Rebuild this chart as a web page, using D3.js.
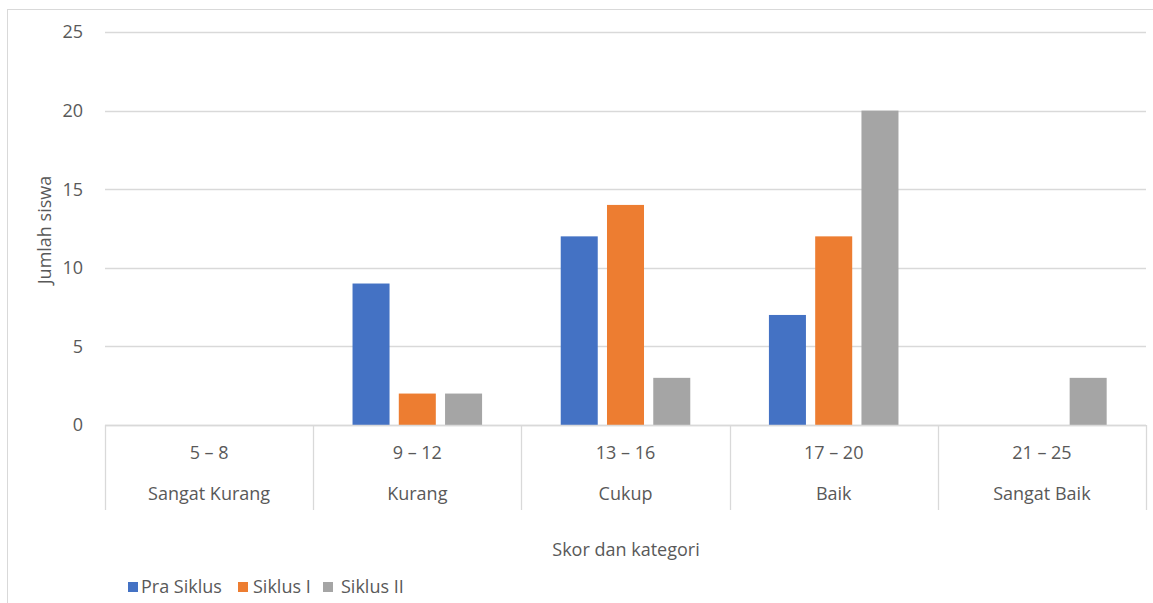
<!DOCTYPE html>
<html>
<head>
<meta charset="utf-8">
<script src="https://cdn.jsdelivr.net/npm/d3@7"></script>
<style>
  body { margin: 0; background: #fff; }
  svg { display: block; font-family: "Open Sans", Lato, sans-serif; }
</style>
</head>
<body>
<div class="container"></div>
<script>
// values
const ranges = ["5 – 8", "9 – 12", "13 – 16", "17 – 20", "21 – 25"];
const categories = ["Sangat Kurang", "Kurang", "Cukup", "Baik", "Sangat Baik"];
const seriesNames = ["Pra Siklus", "Siklus I", "Siklus II"];
const praSiklus = [0, 9, 12, 7, 0];
const siklusI = [0, 2, 14, 12, 0];
const siklusII = [0, 2, 3, 20, 3];
const yTicks = [0, 5, 10, 15, 20, 25];
const colors = ["#4472C4", "#ED7D31", "#A5A5A5"];

const series = [praSiklus, siklusI, siklusII];

const W = 1153, H = 603;
const margin = { top: 32, right: 7, bottom: 178, left: 105 };
const width = W - margin.left - margin.right;
const height = H - margin.top - margin.bottom;
const fs = 18;

const svg = d3.select(".container")
  .append("svg")
  .attr("width", W)
  .attr("height", H);

// chart border
svg.append("rect")
  .attr("x", 7.5).attr("y", 9.5)
  .attr("width", 1160).attr("height", 620)
  .attr("fill", "none")
  .attr("stroke", "#D9D9D9");

const g = svg.append("g")
  .attr("transform", `translate(${margin.left}, ${margin.top})`);

const x0 = d3.scaleBand()
  .domain(d3.range(categories.length))
  .range([0, width])
  .padding(0);

const x1 = d3.scaleBand()
  .domain(d3.range(series.length))
  .range([0, x0.bandwidth()])
  .paddingInner(0.2)
  .paddingOuter(0.85);

const y = d3.scaleLinear()
  .domain([0, 25])
  .range([height, 0]);

// gridlines
g.append("g")
  .selectAll("line")
  .data(yTicks)
  .join("line")
  .attr("x1", 0).attr("x2", width)
  .attr("y1", d => Math.round(y(d)) + 0.5)
  .attr("y2", d => Math.round(y(d)) + 0.5)
  .attr("stroke", "#D9D9D9")
  .attr("stroke-width", 1.3);

// y tick labels
g.append("g")
  .selectAll("text")
  .data(yTicks)
  .join("text")
  .attr("x", -22)
  .attr("y", d => y(d))
  .attr("dy", "0.35em")
  .attr("text-anchor", "end")
  .attr("fill", "#595959")
  .attr("font-size", fs)
  .text(d => d);

// bars
const groups = g.append("g")
  .selectAll("g")
  .data(categories.map((c, i) => i))
  .join("g")
  .attr("transform", i => `translate(${x0(i)}, 0)`);

groups.selectAll("rect")
  .data(i => series.map((s, k) => ({ k, v: s[i] })))
  .join("rect")
  .attr("x", d => x1(d.k))
  .attr("width", x1.bandwidth())
  .attr("y", d => y(d.v))
  .attr("height", d => height - y(d.v))
  .attr("fill", d => colors[d.k]);

// two-level category axis
const axis = g.append("g").attr("transform", `translate(0, ${height})`);
axis.append("line")
  .attr("x1", 0).attr("x2", width)
  .attr("y1", 0.5).attr("y2", 0.5)
  .attr("stroke", "#D9D9D9")
  .attr("stroke-width", 1.3);

axis.selectAll("line.sep")
  .data(d3.range(categories.length + 1))
  .join("line")
  .attr("class", "sep")
  .attr("x1", i => Math.round(i * x0.step()) + 0.5)
  .attr("x2", i => Math.round(i * x0.step()) + 0.5)
  .attr("y1", 0).attr("y2", 85)
  .attr("stroke", "#D9D9D9")
  .attr("stroke-width", 1.3);

axis.selectAll("text.range")
  .data(ranges)
  .join("text")
  .attr("class", "range")
  .attr("x", (d, i) => x0(i) + x0.bandwidth() / 2)
  .attr("y", 28)
  .attr("dy", "0.35em")
  .attr("text-anchor", "middle")
  .attr("fill", "#595959")
  .attr("font-size", fs)
  .text(d => d);

axis.selectAll("text.cat")
  .data(categories)
  .join("text")
  .attr("class", "cat")
  .attr("x", (d, i) => x0(i) + x0.bandwidth() / 2)
  .attr("y", 69)
  .attr("dy", "0.35em")
  .attr("text-anchor", "middle")
  .attr("fill", "#595959")
  .attr("font-size", fs)
  .text(d => d);

// axis titles
svg.append("text")
  .attr("transform", "translate(45, 230) rotate(-90)")
  .attr("text-anchor", "middle")
  .attr("dy", "0.35em")
  .attr("fill", "#595959")
  .attr("font-size", fs)
  .text("Jumlah siswa");

svg.append("text")
  .attr("x", 626)
  .attr("y", 550)
  .attr("dy", "0.35em")
  .attr("text-anchor", "middle")
  .attr("fill", "#595959")
  .attr("font-size", fs)
  .text("Skor dan kategori");

// legend
const legendX = [128, 238, 323];
const legendTextX = [141, 253, 341];
const legend = svg.append("g")
  .selectAll("g")
  .data(seriesNames)
  .join("g");

legend.append("rect")
  .attr("x", (d, i) => legendX[i]).attr("y", 582)
  .attr("width", 10).attr("height", 10)
  .attr("fill", (d, i) => colors[i]);

legend.append("text")
  .attr("x", (d, i) => legendTextX[i])
  .attr("y", 587)
  .attr("dy", "0.35em")
  .attr("fill", "#595959")
  .attr("font-size", fs)
  .text(d => d);
</script>
</body>
</html>
